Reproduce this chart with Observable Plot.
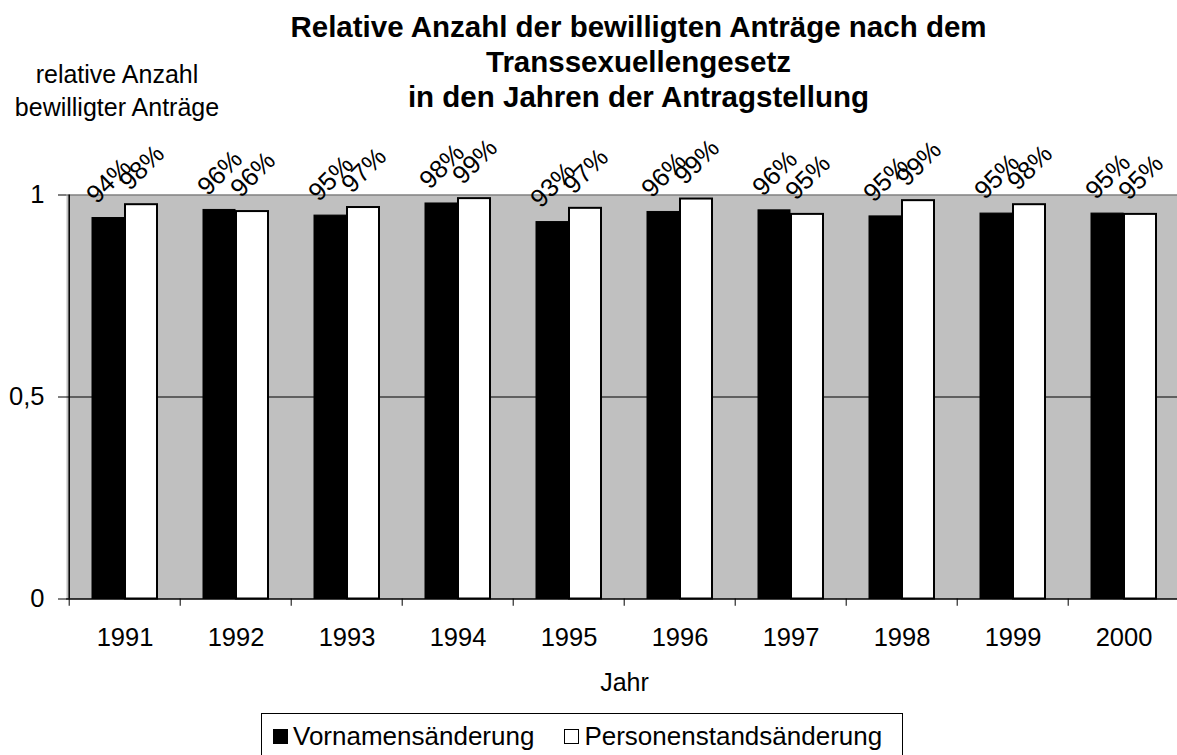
<!DOCTYPE html>
<html>
<head>
<meta charset="utf-8">
<script src="https://cdn.jsdelivr.net/npm/d3@7"></script>
<script src="https://cdn.jsdelivr.net/npm/@observablehq/plot@0.6"></script>
<style>
  html, body { margin: 0; padding: 0; background: #fff; overflow: hidden; }
  #wrap { position: relative; width: 1177px; height: 755px; overflow: hidden; font-family: "Liberation Sans", Arial, sans-serif; color: #000; }
  #title { position: absolute; left: 100px; top: 9px; width: 1077px; text-align: center; font-weight: bold; font-size: 29.5px; line-height: 35px; }
  #ylabel { position: absolute; left: 0; top: 58px; width: 234px; text-align: center; font-size: 25px; line-height: 33px; }
  #chart { position: absolute; left: 0; top: 130px; }
  #legend { position: absolute; left: 261px; top: 713px; width: 642px; height: 60px; border: 1.5px solid #000; box-sizing: border-box; display: flex; align-items: flex-start; padding-top: 7px; padding-left: 11px; font-size: 26px; }
  .item { display: flex; align-items: center; margin-right: 30px; }
  .sw { width: 15px; height: 15px; border: 1.5px solid #000; box-sizing: border-box; margin-right: 5px; }
</style>
</head>
<body>
<div id="wrap">
  <div id="title">Relative Anzahl der bewilligten Anträge nach dem<br>Transsexuellengesetz<br>in den Jahren der Antragstellung</div>
  <div id="ylabel">relative Anzahl<br>bewilligter Anträge</div>
  <div id="chart"></div>
  <div id="legend"></div>
</div>
<script>
const years = ["1991", "1992", "1993", "1994", "1995", "1996", "1997", "1998", "1999", "2000"];
const vorname = [0.943, 0.963, 0.949, 0.979, 0.933, 0.958, 0.962, 0.947, 0.954, 0.954];
const personenstand = [0.976, 0.959, 0.969, 0.991, 0.967, 0.990, 0.952, 0.986, 0.976, 0.952];
const seriesNames = ["Vornamensänderung", "Personenstandsänderung"];
const seriesFill = ["#000000", "#ffffff"];
const yTicks = [0, 0.5, 1];
const xLabel = "Jahr";

const dataV = years.map((y, i) => ({year: y, value: vorname[i]}));
const dataP = years.map((y, i) => ({year: y, value: personenstand[i]}));
const pct = d => Math.round(d.value * 100) + "%";

const W = 1182, ML = 66;
const half = (W - ML) / years.length / 2;

const chart = Plot.plot({
  width: W,
  height: 580,
  marginLeft: ML,
  marginRight: 0,
  marginTop: 64.5,
  marginBottom: 111.5,
  style: {fontFamily: "Liberation Sans, Arial, sans-serif", fontSize: "25px", color: "#000", background: "transparent", maxWidth: "none", overflow: "visible"},
  x: {type: "band", domain: years, padding: 0},
  y: {domain: [0, 1]},
  marks: [
    Plot.frame({fill: "#c0c0c0", stroke: null}),
    Plot.ruleY([0.5], {stroke: "#000", strokeWidth: 1.2}),
    Plot.ruleY([1], {stroke: "#808080", strokeWidth: 1.5}),
    Plot.barY(dataV, {x: "year", y: "value", fill: seriesFill[0], stroke: "#000", strokeWidth: 1, insetLeft: 23, insetRight: 56}),
    Plot.barY(dataP, {x: "year", y: "value", fill: seriesFill[1], stroke: "#000", strokeWidth: 2, insetLeft: 56, insetRight: 23}),
    Plot.text(dataV, {x: "year", y: "value", text: pct, rotate: -45, dx: -16, dy: -37, fontSize: 25.5, fill: "#000"}),
    Plot.text(dataP, {x: "year", y: "value", text: pct, rotate: -45, dx: 17, dy: -37, fontSize: 25.5, fill: "#000"}),
    Plot.ruleY([0], {stroke: "#000", strokeWidth: 1.5}),
    Plot.ruleX([years[0]], {x: d => d, dx: -half, y1: 0, y2: 1, stroke: "#000", strokeWidth: 1.5}),
    Plot.ruleX(years, {x: d => d, dx: -half, y1: 0, y2: -0.018, stroke: "#000", strokeWidth: 1}),
    Plot.axisY({ticks: yTicks, tickFormat: d => String(d).replace(".", ","), tickSize: 8, tickPadding: 14, fontSize: 25.5, label: null}),
    Plot.axisX({tickSize: 0, tickPadding: 29, fontSize: 25.5, label: null}),
    Plot.text([xLabel], {frameAnchor: "bottom", dy: 92, fontSize: 25, fill: "#000"})
  ]
});
document.getElementById("chart").appendChild(chart);

const legend = document.getElementById("legend");
seriesNames.forEach((name, i) => {
  const item = document.createElement("div");
  item.className = "item";
  const sw = document.createElement("div");
  sw.className = "sw";
  sw.style.background = seriesFill[i];
  const t = document.createElement("span");
  t.textContent = name;
  item.appendChild(sw);
  item.appendChild(t);
  legend.appendChild(item);
});
</script>
</body>
</html>
